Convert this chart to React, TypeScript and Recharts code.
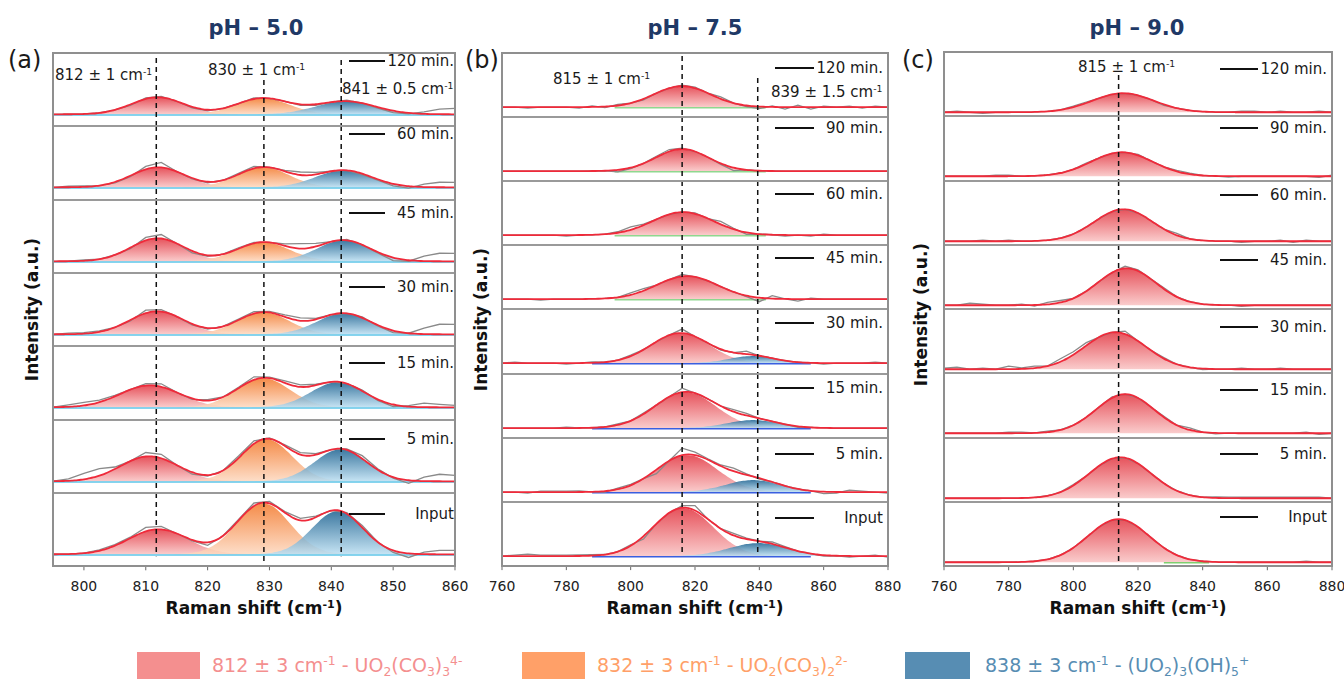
import React from "react";
import { Area, ComposedChart, Line, ReferenceLine, XAxis, YAxis } from "recharts";

const FONT = '"DejaVu Sans", "Liberation Sans", Arial, sans-serif';

type Peak = [number, number, number] | null; // height, centre (cm-1), sigma (cm-1)

// ---- (a) pH 5.0 ----
const timesA = ["120 min.", "60 min.", "45 min.", "30 min.", "15 min.", "5 min.", "Input"];
const redA: Peak[] = [[17, 811.9, 4.2], [20, 812, 4.3], [23, 811.9, 4.3], [23, 811.8, 4.4], [22, 810.7, 4.8], [25, 810.6, 4.7], [25, 812, 4.8]];
const orangeA: Peak[] = [[16, 828.9, 4.3], [20, 829, 4.2], [19, 829, 4.3], [22, 829, 4.2], [29, 829, 4.3], [42, 829.5, 4.1], [51, 829, 4.3]];
const blueA: Peak[] = [[13, 842.3, 4.8], [17, 842, 4.5], [21, 842, 4.3], [21, 842, 4.3], [25, 841, 4.3], [32, 841.5, 4.2], [43, 841, 4.1]];
const rawXA = [795, 797.5, 800, 802.5, 805, 807.5, 810, 812.5, 815, 817.5, 820, 822.5, 825, 827.5, 830, 832.5, 835, 837.5, 840, 842.5, 845, 847.5, 850, 852.5, 855, 857.5, 860];
const rawResA = [
  [0, 0, 0, 0, 0, -1, 1, 1, 0, -1, -1, 0, 0, 1, 0, 0, -1, -1, 0, 1, 0, -1, -2, -1, 2, 5, 6],
  [0, 1, 1, 0, -1, -1, 3, 5, 0, -1, -1, 0, 1, 2, 0, 1, 3, 2, 0, 0, -1, -1, -2, -2, 3, 5, 5],
  [0, 0, 1, 0, 0, -1, 3, 4, 0, -2, -1, 0, 1, 1, 0, 2, 5, 3, 0, 1, 0, -1, -3, -1, 5, 8, 8],
  [0, 1, 1, 1, 0, -1, 3, 2, 0, -1, -1, 0, 1, 2, 1, 2, 3, 1, 0, 0, 1, -1, -2, 0, 6, 10, 10],
  [0, 2, 3, 2, 1, 0, 2, 3, 0, -1, 1, 0, 1, 3, 1, 2, 2, 1, 0, 0, 1, -1, -2, 1, 4, 3, 2],
  [0, 2, 6, 7, 2, 0, 4, 4, 0, -2, -1, 0, 2, 3, 1, 1, 2, 1, 0, 1, 3, 1, -1, -3, 4, 7, 6],
  [0, 0, 0, 1, 1, 1, 4, 3, 0, -1, -3, 0, 1, 3, 2, 1, 2, 1, 0, 1, 2, 0, -2, -4, 2, 4, 4],
];
const ticksA = [800, 810, 820, 830, 840, 850, 860];

// ---- (b) pH 7.5 ----
const timesB = ["120 min.", "90 min.", "60 min.", "45 min.", "30 min.", "15 min.", "5 min.", "Input"];
const redB: Peak[] = [[21, 816, 8.8], [22, 816, 8.3], [23, 816.3, 9.5], [23, 817.5, 9.5], [30, 815.4, 9], [36, 817, 9.5], [37, 817.5, 9.5], [48, 816.3, 9.3]];
const blueB: Peak[] = [null, null, null, null, [7, 837.7, 7], [8, 838, 8], [12, 838, 8.5], [13, 839.6, 9]];

// ---- (c) pH 9.0 ----
const timesC = ["120 min.", "90 min.", "60 min.", "45 min.", "30 min.", "15 min.", "5 min.", "Input"];
const redC: Peak[] = [[19, 815.4, 9.5], [24, 815, 9.5], [32, 815.5, 9], [37, 816.5, 9], [37, 813, 9.5], [39, 816, 9], [41, 814.5, 9.5], [43, 814, 9.5]];

const rawXBC = [760, 764, 768, 772, 776, 780, 784, 788, 792, 796, 800, 804, 808, 812, 816, 820, 824, 828, 832, 836, 840, 844, 848, 852, 856, 860, 864, 868, 872, 876, 880];
const rawResB = [
  [0, 0, -1, 0, 0, 0, -1, 1, -1, 1, 0, -1, 0, 0, 1, 1, 0, 2, 0, -1, -2, 1, -2, 2, -2, 1, 0, 1, -1, 1, 0],
  [0, 0, 0, 0, 0, 0, 0, 0, 0, -2, -1, 0, 1, 2, 1, 0, 0, -1, -3, 0, 0, 0, 0, 0, 0, 0, 0, 0, 0, 0, 0],
  [0, 0, 0, 0, 0, -1, 0, 0, 0, 1, 3, 1, 0, 0, 0, 1, 0, 3, 1, -2, 0, 0, -1, 0, -1, 1, 0, 0, 0, 0, 0],
  [0, 0, 0, -1, 0, 0, 0, 0, 0, 0, 2, 2, 0, 0, 2, 0, 0, 0, 0, -1, -4, 3, 0, -2, 1, 0, 0, 0, 0, 0, 0],
  [0, 1, 0, 0, 0, -1, 0, 1, 0, 0, 1, 0, 0, 0, 4, 0, 0, -1, 0, 3, 0, 0, 0, 0, 0, -1, 0, 0, 0, 1, 0],
  [0, 0, 0, 0, 0, 1, 0, 0, 0, 1, 0, 1, 0, 0, 4, 0, 0, 0, 2, 2, 0, 0, 0, -1, 0, 0, 0, 0, 0, 0, 0],
  [0, 0, -1, 1, 1, 1, 1, 0, -1, 1, 1, 0, -4, 0, 7, 3, 1, 1, 3, 1, -1, 0, 0, 0, 0, -2, -1, 2, 1, 0, -1],
  [0, 1, 2, 1, 1, 1, 1, 1, 0, 0, 1, -3, 0, 0, 2, 5, 0, 0, 2, 1, 0, 2, 1, 0, 0, -1, 0, -1, 0, 1, -1],
];
const rawResC = [
  [0, 1, 0, -1, 0, 0, 0, 0, 0, 0, 1, 1, 0, 0, 0, 0, 0, -1, 0, 0, 0, 0, 0, 1, 1, 0, 1, 0, 0, 1, 0],
  [0, 0, 0, 0, 1, 1, 0, 0, 0, 0, 0, 1, 0, 0, 0, 1, 0, 0, 1, 1, 0, 0, -1, 0, 0, 0, 0, 0, 0, -1, 1],
  [0, 0, 0, 1, 0, 1, 0, 0, 0, 0, 0, 0, 0, 0, 0, 0, 0, 0, 2, 0, 0, 0, 0, -1, 0, 0, 1, -1, 1, 0, 0],
  [0, 0, 2, 1, 0, 0, 1, -1, 2, 2, 0, 0, 0, 0, 2, 1, 0, 1, 0, 0, 0, 0, 0, -1, 0, 0, 0, 0, 0, 0, 0],
  [1, 2, 0, 1, 0, 3, 1, 2, 0, 3, 3, 3, 0, 0, 3, 0, 0, 1, 0, 0, -1, 0, 0, 1, 0, 0, 1, 0, 0, 0, 0],
  [0, 0, 0, 0, 0, 1, 1, 0, 1, 0, 0, 0, 0, 1, 0, 0, 0, 1, 0, 2, 0, -1, 0, 0, 0, 0, 0, 0, 1, -1, 0],
  [0, 0, 0, 0, 0, 0, 0, 0, 0, 0, 1, 0, 0, 0, 0, 0, 0, 0, 0, 0, 0, 1, 1, 1, 1, 1, 1, 1, 1, 1, 0],
  [0, 0, 0, 0, 0, 0, 0, 0, 0, 0, 0, 0, 0, 0, 0, 0, 0, 0, 0, 0, 0, 0, 0, 0, 0, 0, 0, 0, 1, 0, 0],
];
const ticksBC = [760, 780, 800, 820, 840, 860, 880];

const GRADS: Record<string, [string, string]> = {
  red: ["#e2343f", "#f9c3c3"],
  orange: ["#f3782a", "#fdd8bf"],
  blue: ["#1b6190", "#bcdff2"],
};

type Seg = [number, number, string];
type Dash = { x: number; start: number; end: number | null };
type Panel = {
  id: string;
  left: number;
  top: number;
  width: number;
  rowH: number;
  base: number;
  domain: [number, number];
  step: number;
  ticks: number[];
  times: string[];
  comps: { key: string; peaks: Peak[] }[];
  rawX: number[];
  rawRes: number[][];
  segs: (i: number) => Seg[];
  dashes: Dash[];
  lineX: [number, number];
  textRight: number;
  labelOff: number[];
};

const panels: Panel[] = [
  {
    id: "a", left: 53, top: 53, width: 402, rowH: 73.3, base: 12, domain: [795, 860], step: 0.5,
    ticks: ticksA, times: timesA,
    comps: [{ key: "red", peaks: redA }, { key: "orange", peaks: orangeA }, { key: "blue", peaks: blueA }],
    rawX: rawXA, rawRes: rawResA,
    segs: () => [[795, 860, "#5ec6e8"]],
    dashes: [{ x: 811.7, start: 5, end: -2 }, { x: 829.1, start: 27, end: null }, { x: 841.6, start: 7, end: -2 }],
    lineX: [349, 385], textRight: 454, labelOff: [8, 8, 13, 14, 17, 19, 21],
  },
  {
    id: "b", left: 502, top: 53, width: 386, rowH: 64.1, base: 10, domain: [760, 880], step: 1,
    ticks: ticksBC, times: timesB,
    comps: [{ key: "red", peaks: redB }, { key: "blue", peaks: blueB }],
    rawX: rawXBC, rawRes: rawResB,
    segs: (i) => (i < 4 ? [[795, 842, "#8fd88f"]] : [[788, 856, "#3a5fe0"]]),
    dashes: [{ x: 816, start: 3, end: 3 }, { x: 839.5, start: 25, end: 2 }],
    lineX: [775, 814], textRight: 883, labelOff: [15, 11, 13, 13, 14, 14, 16, 16],
  },
  {
    id: "c", left: 944, top: 52, width: 388, rowH: 64.25, base: 4, domain: [760, 880], step: 1,
    ticks: ticksBC, times: timesC,
    comps: [{ key: "red", peaks: redC }],
    rawX: rawXBC, rawRes: rawResC,
    segs: (i) => (i === 7 ? [[828, 842, "#7fcf6f"]] : []),
    dashes: [{ x: 814, start: 23, end: 0 }],
    lineX: [1220, 1258], textRight: 1327, labelOff: [17, 12, 14, 15, 18, 17, 16, 15],
  },
];

const gauss = (p: Peak, x: number) => (p ? p[0] * Math.exp(-((x - p[1]) ** 2) / (2 * p[2] * p[2])) : 0);

const AXIS_H = 34;
const PAD = 24;

function Row({ p, i }: { p: Panel; i: number }) {
  const last = i === p.times.length - 1;
  const lo = -p.base;
  const hi = p.rowH - p.base;
  const fitAt = (x: number) => p.comps.reduce((s, c) => s + gauss(c.peaks[i], x), 0);
  const data: Record<string, number>[] = [];
  for (let x = p.domain[0]; x <= p.domain[1] + 1e-6; x += p.step) {
    const d: Record<string, number> = { x, fit: fitAt(x) };
    p.comps.forEach((c) => {
      d[c.key] = gauss(c.peaks[i], x);
    });
    data.push(d);
  }
  const raw = p.rawX.map((x, k) => ({ x, raw: fitAt(x) + p.rawRes[i][k] }));
  const gid = (k: string) => `g-${p.id}-${i}-${k}`;
  return (
    <div style={{ position: "absolute", left: p.left - PAD, top: p.top + i * p.rowH }}>
      <ComposedChart
        width={p.width + 2 * PAD}
        height={p.rowH + (last ? AXIS_H : 0)}
        data={data}
        margin={{ top: 0, right: PAD, bottom: 0, left: PAD }}
      >
        <defs>
          {p.comps.map((c) => (
            <linearGradient key={c.key} id={gid(c.key)} x1="0" y1="0" x2="0" y2="1">
              <stop offset="0%" stopColor={GRADS[c.key][0]} />
              <stop offset="100%" stopColor={GRADS[c.key][1]} />
            </linearGradient>
          ))}
        </defs>
        <XAxis
          type="number"
          dataKey="x"
          domain={p.domain}
          ticks={p.ticks}
          interval={0}
          allowDataOverflow
          hide={!last}
          height={AXIS_H}
          tickSize={4}
          tickMargin={11}
          axisLine={{ stroke: "#8f8f8f" }}
          tickLine={{ stroke: "#666" }}
          tick={{ fontSize: 14, fill: "#222", fontFamily: FONT }}
        />
        <YAxis hide type="number" domain={[lo, hi]} allowDataOverflow />
        {p.comps.map((c) => (
          <Area
            key={c.key}
            dataKey={c.key}
            type="monotone"
            baseValue={0}
            stroke="none"
            fill={`url(#${gid(c.key)})`}
            fillOpacity={0.85}
            isAnimationActive={false}
          />
        ))}
        {p.segs(i).map((s, k) => (
          <ReferenceLine
            key={`s${k}`}
            segment={[{ x: s[0], y: -0.6 }, { x: s[1], y: -0.6 }]}
            stroke={s[2]}
            strokeWidth={1.5}
          />
        ))}
        <Line
          data={raw}
          dataKey="raw"
          type="linear"
          stroke="#8a8a8a"
          strokeWidth={1.3}
          dot={false}
          isAnimationActive={false}
        />
        <Line dataKey="fit" type="monotone" stroke="#ef2a3a" strokeWidth={1.8} dot={false} isAnimationActive={false} />
        {p.dashes.map((d, k) => {
          const y1 = i === 0 ? hi - d.start : hi;
          const y2 = last && d.end !== null ? d.end : lo;
          return (
            <ReferenceLine
              key={`d${k}`}
              segment={[{ x: d.x, y: y1 }, { x: d.x, y: y2 }]}
              stroke="#111"
              strokeWidth={1.5}
              strokeDasharray="5 4"
            />
          );
        })}
      </ComposedChart>
    </div>
  );
}

const txt = (left: number, top: number, size: number, extra: React.CSSProperties = {}): React.CSSProperties => ({
  position: "absolute",
  left,
  top,
  fontSize: size,
  lineHeight: 1,
  fontFamily: FONT,
  whiteSpace: "nowrap",
  color: "#1a1a1a",
  ...extra,
});

const Wn = ({ v }: { v: string }) => (
  <>
    {v} cm<sup style={{ fontSize: "0.62em", verticalAlign: "0.55em", lineHeight: 0 }}>-1</sup>
  </>
);

function PanelFrame({ p }: { p: Panel }) {
  const n = p.times.length;
  return (
    <>
      {p.times.map((_, i) => (
        <Row key={i} p={p} i={i} />
      ))}
      {p.times.slice(1).map((_, i) => (
        <div
          key={`sep${i}`}
          style={{ position: "absolute", left: p.left, top: Math.round(p.top + (i + 1) * p.rowH - 1), width: p.width, height: 2, background: "#9a9a9a" }}
        />
      ))}
      <div
        style={{
          position: "absolute",
          left: p.left - 1,
          top: p.top - 1,
          width: p.width + 2,
          height: Math.round(n * p.rowH + 2),
          border: "2px solid #8f8f8f",
          boxSizing: "border-box",
        }}
      />
      {p.times.map((t, i) => {
        const y = Math.round(p.top + i * p.rowH + p.labelOff[i]);
        return (
          <React.Fragment key={`lab${i}`}>
            <div style={{ position: "absolute", left: p.lineX[0], top: y - 1, width: p.lineX[1] - p.lineX[0], height: 2, background: "#111" }} />
            <div style={txt(0, y - 7.5, 15, { left: "auto", right: 1344 - p.textRight, textAlign: "right" })}>{t}</div>
          </React.Fragment>
        );
      })}
    </>
  );
}

export default function App() {
  const sub = { fontSize: "0.65em", verticalAlign: "-0.3em", lineHeight: 0 } as React.CSSProperties;
  const sup = { fontSize: "0.65em", verticalAlign: "0.55em", lineHeight: 0 } as React.CSSProperties;
  return (
    <div style={{ position: "absolute", left: 0, top: 0, width: 1344, height: 679, background: "#fff", overflow: "hidden", fontFamily: FONT }}>
      {panels.map((p) => (
        <PanelFrame key={p.id} p={p} />
      ))}

      {/* titles */}
      {[["pH – 5.0", 256], ["pH – 7.5", 695], ["pH – 9.0", 1137]].map(([t, cx]) => (
        <div key={t as string} style={txt((cx as number) - 100, 18, 21, { width: 200, textAlign: "center", fontWeight: "bold", color: "#1f3966" })}>
          {t}
        </div>
      ))}
      {/* panel letters */}
      <div style={txt(8, 48, 24)}>(a)</div>
      <div style={txt(465, 48, 24)}>(b)</div>
      <div style={txt(902, 48, 24)}>(c)</div>

      {/* y labels */}
      {[[32, 310], [481, 320], [921, 315]].map(([cx, cy], k) => (
        <div
          key={`yl${k}`}
          style={txt(cx - 100, cy - 9, 17, { width: 200, textAlign: "center", fontWeight: "bold", transform: "rotate(-90deg)", color: "#111" })}
        >
          Intensity (a.u.)
        </div>
      ))}
      {/* x labels */}
      {[254, 695, 1138].map((cx, k) => (
        <div key={`xl${k}`} style={txt(cx - 120, 600, 17, { width: 240, textAlign: "center", fontWeight: "bold", color: "#111" })}>
          Raman shift (cm<sup style={sup}>-1</sup>)
        </div>
      ))}

      {/* peak annotations */}
      <div style={txt(55, 68, 15)}><Wn v="812 ± 1" /></div>
      <div style={txt(208, 63, 15)}><Wn v="830 ± 1" /></div>
      <div style={txt(342, 82, 15)}><Wn v="841 ± 0.5" /></div>
      <div style={txt(553, 72, 15)}><Wn v="815 ± 1" /></div>
      <div style={txt(771, 85, 15)}><Wn v="839 ± 1.5" /></div>
      <div style={txt(1078, 60, 15)}><Wn v="815 ± 1" /></div>

      {/* legend */}
      <div style={{ position: "absolute", left: 137, top: 652, width: 63, height: 30, background: "#f48f8f" }} />
      <div style={txt(212, 656, 19, { color: "#f48f8f" })}>
        812 ± 3 cm<sup style={sup}>-1</sup> - UO<sub style={sub}>2</sub>(CO<sub style={sub}>3</sub>)<sub style={sub}>3</sub><sup style={sup}>4-</sup>
      </div>
      <div style={{ position: "absolute", left: 522, top: 652, width: 63, height: 30, background: "#ffa068" }} />
      <div style={txt(597, 656, 19, { color: "#ffa068" })}>
        832 ± 3 cm<sup style={sup}>-1</sup> - UO<sub style={sub}>2</sub>(CO<sub style={sub}>3</sub>)<sub style={sub}>2</sub><sup style={sup}>2-</sup>
      </div>
      <div style={{ position: "absolute", left: 905, top: 652, width: 65, height: 30, background: "#578db3" }} />
      <div style={txt(985, 656, 19, { color: "#578db3" })}>
        838 ± 3 cm<sup style={sup}>-1</sup> - (UO<sub style={sub}>2</sub>)<sub style={sub}>3</sub>(OH)<sub style={sub}>5</sub><sup style={sup}>+</sup>
      </div>
    </div>
  );
}
